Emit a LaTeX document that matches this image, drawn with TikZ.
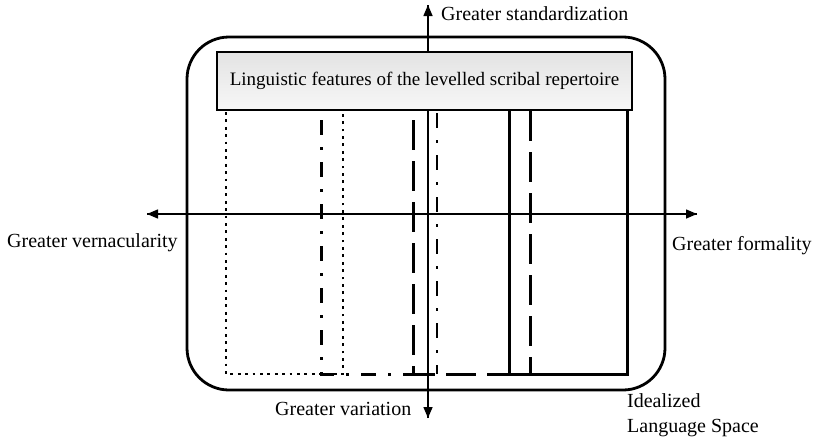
\documentclass[tikz,border=0pt]{standalone}
\usepackage{fontspec}
\setmainfont{Liberation Serif}
\usetikzlibrary{arrows.meta}
\tikzset{
  lbl/.style={font=\fontsize{20}{23}\selectfont, inner sep=0pt},
  axis/.style={line width=1.5pt, -{Triangle[length=11pt,width=9pt]}},
  band/.style={line width=3pt},
  dotband/.style={line width=2.8pt, dash pattern=on 2.8pt off 4.6pt},
  dashdotband/.style={band, dash pattern=on 15pt off 12pt on 3pt off 12pt},
  longdashband/.style={band, dash pattern=on 30pt off 11pt},
  header/.style={draw, line width=2.8pt, top color=gray!22, bottom color=gray!6,
    minimum width=415pt, minimum height=58pt, inner sep=0pt,
    font=\fontsize{19}{22}\selectfont}
}
\begin{document}
\begin{tikzpicture}[x=1pt,y=-1pt]
\useasboundingbox (0,0) rectangle (816,439);
% language space frame
\draw[line width=2.8pt, rounded corners=42pt] (187,37) rectangle (665,390);
% axes
\coordinate (top) at (428,5);
\coordinate (bot) at (428,418);
\coordinate (lft) at (147,214);
\coordinate (rgt) at (697,214);
\draw[axis] (bot) -- (top);
\draw[axis] (top) -- (bot);
\draw[axis] (rgt) -- (lft);
\draw[axis] (lft) -- (rgt);
% overlapping feature ranges
\draw[dotband] (226,112) -- (226,374) -- (343,374) -- (343,112);
\draw[dashdotband] (321,120) -- (321,374) -- (437,374);
\draw[dashdotband, line width=2.4pt] (437,113) -- (437,374);
\draw[longdashband] (413,120) -- (413,374) -- (530,374);
\draw[longdashband] (530,111) -- (530,374);
\draw[band] (509,111) -- (509,374) -- (627,374) -- (627,111);
% header
\node[header] (hdr) at (424.5,81) {Linguistic features of the levelled scribal repertoire};
% axis labels
\node[lbl, anchor=base west] (std) at (441,20) {Greater standardization};
\node[lbl, anchor=base west] (ver) at (7,247) {Greater vernacularity};
\node[lbl, anchor=base west] (frm) at (672,250) {Greater formality};
\node[lbl, anchor=base west] (var) at (275,415) {Greater variation};
\node[lbl, anchor=base west] (ils) at (627,407) {Idealized};
\node[lbl, anchor=base west] (ils2) at (627,432) {Language Space};
\end{tikzpicture}
\end{document}
